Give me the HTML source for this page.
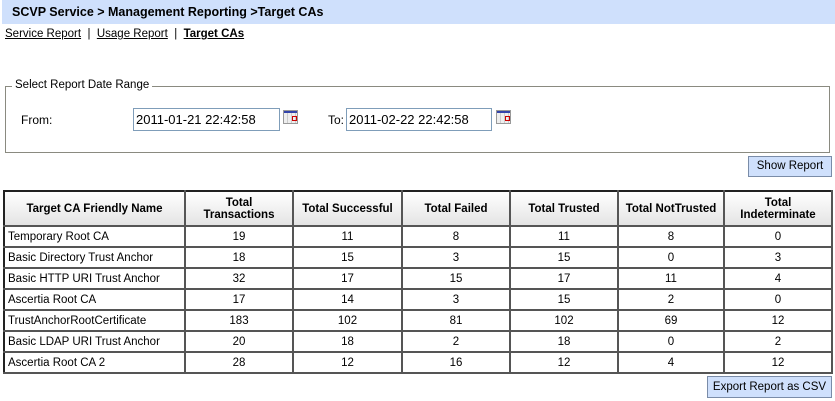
<!DOCTYPE html>
<html><head><style>
body{margin:0;width:835px;height:401px;background:#fff;font-family:"Liberation Sans",Arial,sans-serif;font-size:12px;color:#000;position:relative;overflow:hidden}
.a{position:absolute}
.hdr{left:2px;top:0;width:833px;height:24px;background:#cfe0fc;font-weight:bold;font-size:12.5px;line-height:24px;text-indent:10px}
.nav{left:5px;top:28px;font-size:11.5px}
.nav u{text-decoration:underline}
.fs{left:5px;top:86px;width:823px;height:65px;border:1px solid #8a8a80}
.lg{left:12px;top:79px;background:#fff;padding:0 3px;font-size:11.5px}
.inp{height:23px;border:1px solid #7f9db9;font-size:13px;line-height:22px;padding-left:2px;box-sizing:border-box}
.cal{width:13px;height:12px;border:1px solid #999;background:repeating-linear-gradient(90deg,#eee 0 3px,#ccc 3px 4px)}
.cal:before{content:"";position:absolute;left:0;top:0;width:13px;height:2px;background:#3344aa}
.cal:after{content:"";position:absolute;left:8px;top:5px;width:3px;height:3px;border:1px solid #c00}
.btn{background:#cfe0fc;border:1px solid #7a8ca8;text-align:center;font-size:11.5px;box-sizing:border-box}
table{position:absolute;left:3px;top:190px;width:828px;border-collapse:collapse;border:2px solid #666;table-layout:fixed}
td,th{border:2px solid #333;border-color:#222 #555 #555 #222;font-size:11.5px;padding:0 3px;text-align:center;overflow:hidden;white-space:nowrap}
tr{height:21px}
tr.h{height:35px}
th{background:linear-gradient(#fff,#e4e4e4);font-weight:bold;line-height:12px}
td:first-child{text-align:left}
</style></head><body>
<div class="a hdr">SCVP Service &gt; Management Reporting &gt;Target CAs</div>
<div class="a nav"><u>Service Report</u> &nbsp;| &nbsp;<u>Usage Report</u> &nbsp;| &nbsp;<b><u>Target CAs</u></b></div>
<div class="a fs"></div>
<div class="a lg">Select Report Date Range</div>
<div class="a" style="left:21px;top:113px">From:</div>
<div class="a inp" style="left:133px;top:108px;width:147px">2011-01-21 22:42:58</div>
<div class="a cal" style="left:283px;top:110px"></div>
<div class="a" style="left:328px;top:113px">To:</div>
<div class="a inp" style="left:346px;top:108px;width:146px">2011-02-22 22:42:58</div>
<div class="a cal" style="left:496px;top:110px"></div>
<div class="a btn" style="left:748px;top:156px;width:84px;height:21px;line-height:19px">Show Report</div>
<table>
<colgroup><col style="width:181px"><col style="width:108px"><col style="width:109px"><col style="width:108px"><col style="width:108px"><col style="width:106px"><col style="width:108px"></colgroup>
<tr class="h"><th>Target CA Friendly Name</th><th>Total<br>Transactions</th><th>Total Successful</th><th>Total Failed</th><th>Total Trusted</th><th>Total NotTrusted</th><th>Total<br>Indeterminate</th></tr>
<tr><td>Temporary Root CA</td><td>19</td><td>11</td><td>8</td><td>11</td><td>8</td><td>0</td></tr>
<tr><td>Basic Directory Trust Anchor</td><td>18</td><td>15</td><td>3</td><td>15</td><td>0</td><td>3</td></tr>
<tr><td>Basic HTTP URI Trust Anchor</td><td>32</td><td>17</td><td>15</td><td>17</td><td>11</td><td>4</td></tr>
<tr><td>Ascertia Root CA</td><td>17</td><td>14</td><td>3</td><td>15</td><td>2</td><td>0</td></tr>
<tr><td>TrustAnchorRootCertificate</td><td>183</td><td>102</td><td>81</td><td>102</td><td>69</td><td>12</td></tr>
<tr><td>Basic LDAP URI Trust Anchor</td><td>20</td><td>18</td><td>2</td><td>18</td><td>0</td><td>2</td></tr>
<tr><td>Ascertia Root CA 2</td><td>28</td><td>12</td><td>16</td><td>12</td><td>4</td><td>12</td></tr>
</table>
<div class="a btn" style="left:707px;top:376px;width:125px;height:22px;line-height:20px">Export Report as CSV</div>
</body></html>
